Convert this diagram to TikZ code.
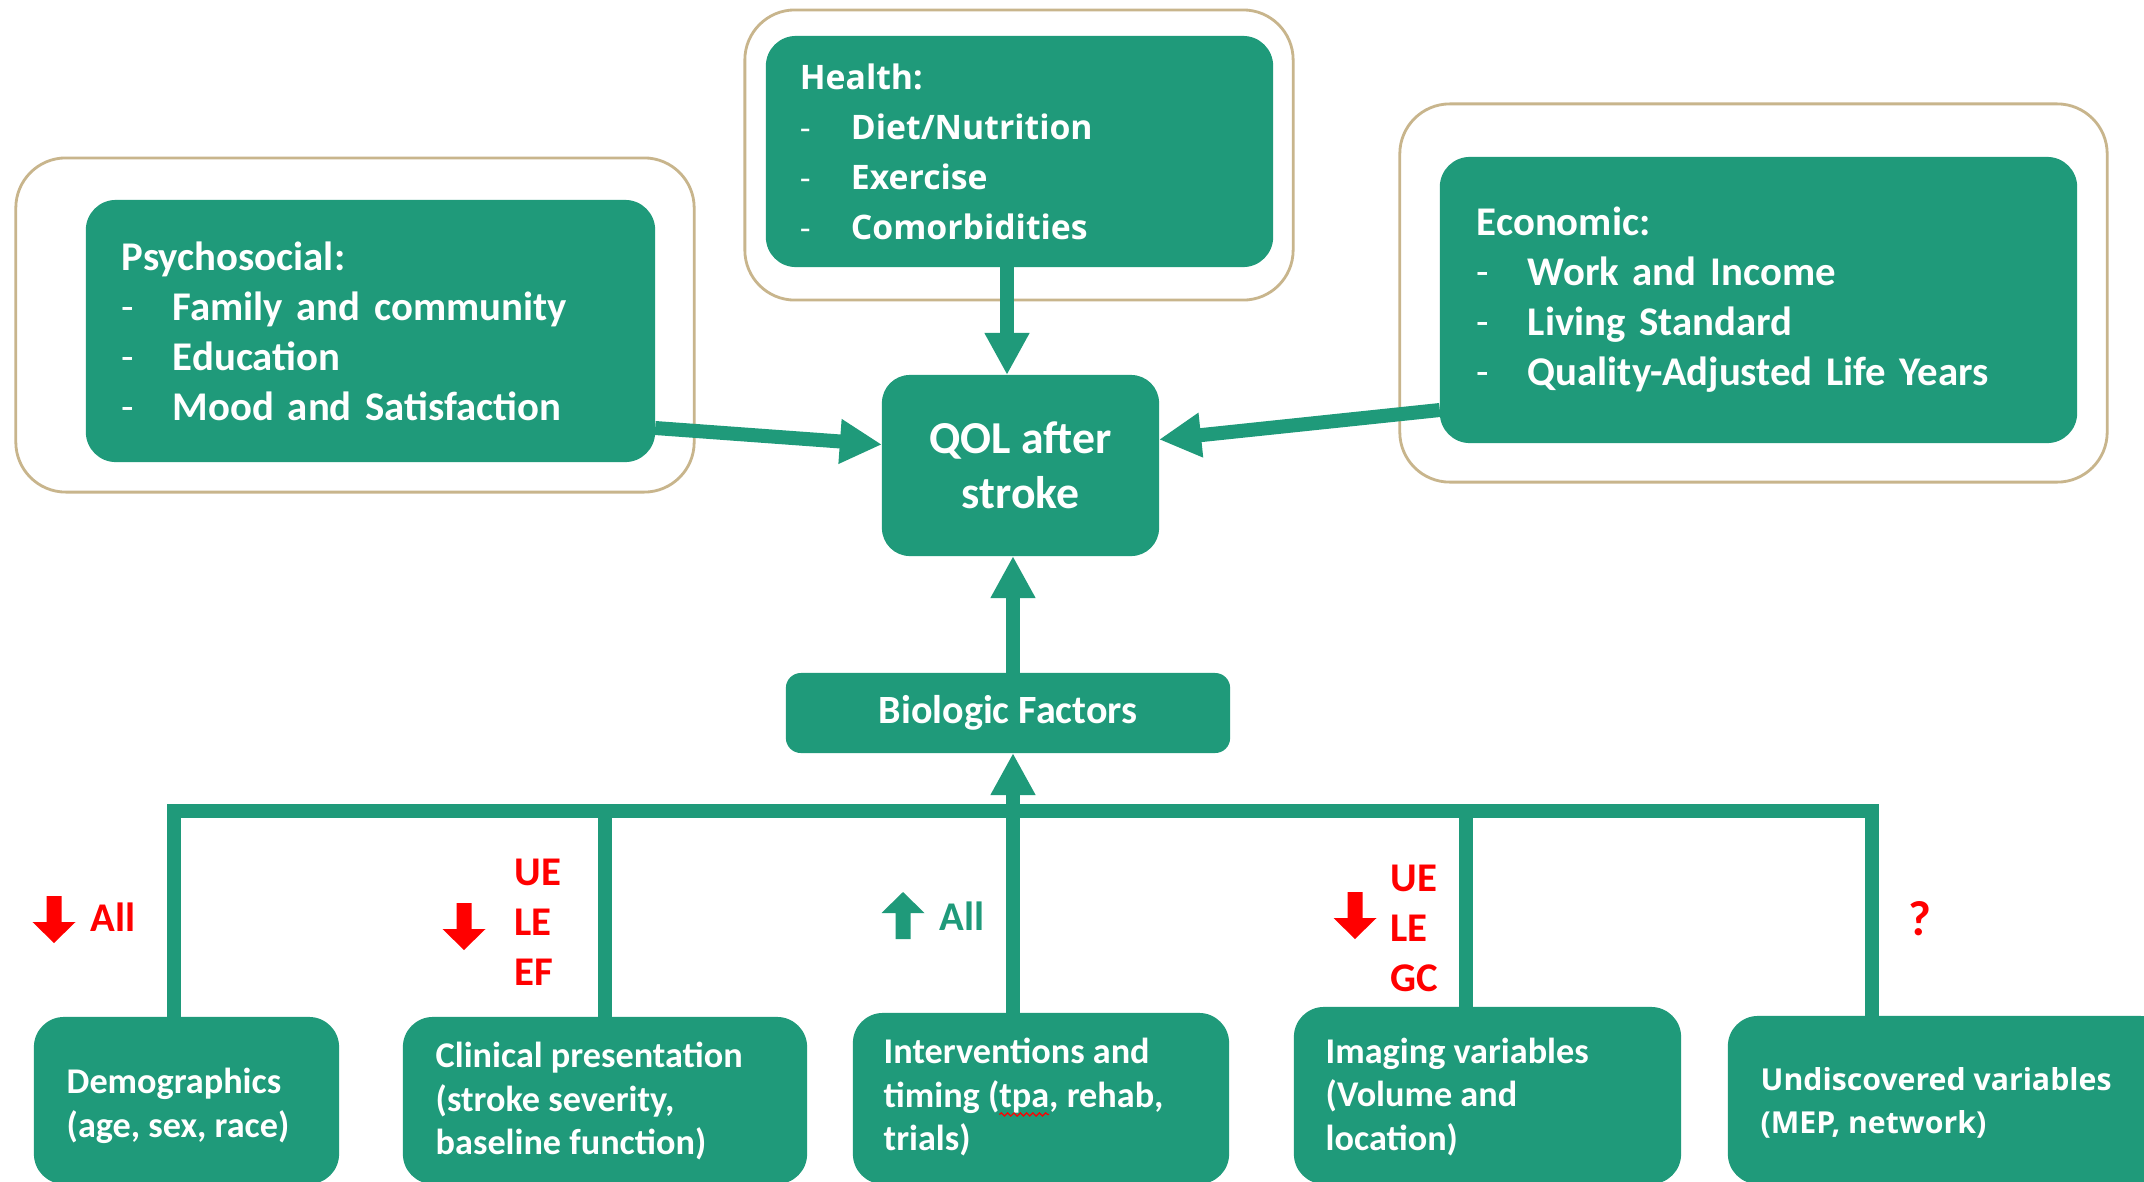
\documentclass[tikz,border=0pt]{standalone}
\usepackage{fontspec}
\setmainfont{Carlito}
\newfontfamily\wideface{Open Sans}
\usetikzlibrary{arrows.meta,calc,decorations.pathmorphing}

\definecolor{leafgreen}{RGB}{31,154,122}
\definecolor{framebrown}{RGB}{200,181,140}
\definecolor{alertred}{RGB}{255,0,0}

% red wavy mark under a word
\newcommand{\spellwave}[1]{\tikz[baseline=(sw.base)]{\node[inner sep=0pt, outer sep=0pt] (sw) {#1};
  \draw[overlay, alertred, line width=0.35pt, decorate, decoration={snake, amplitude=0.45pt, segment length=1.8pt}]
    ([yshift=-0.5pt]sw.south west) -- ([yshift=-0.5pt]sw.south east);}}

\tikzset{
  frame/.style={draw=framebrown, line width=0.8pt, rounded corners=0.5cm, fill=white},
  factor/.style={fill=leafgreen, draw=none, text=white, inner sep=0pt, outer sep=0pt},
  toplist/.style={factor, rounded corners=0.3cm, align=left, font=\bfseries\fontsize{11.6}{14.2}\selectfont},
  leaf/.style={factor, rounded corners=0.3cm},
  leaftext/.style={text=white, inner sep=0pt, align=left, anchor=west, font=\bfseries\fontsize{10.3}{12.5}\selectfont},
  conn/.style={draw=leafgreen, line width=0.14cm},
  tip/.style={-{Triangle[width=0.42cm, length=0.42cm]}},
  effect/.style={inner sep=0pt, anchor=west, align=left, font=\bfseries\fontsize{11.6}{14.2}\selectfont},
  downmark/.pic={\fill (-7.5,0) -- (7.5,0) -- (7.5,26) -- (21.5,26) -- (0,47) -- (-21.5,26) -- (-7.5,26) -- cycle;},
  upmark/.pic={\fill (-7.5,47) -- (7.5,47) -- (7.5,21) -- (21.5,21) -- (0,0) -- (-21.5,21) -- (-7.5,21) -- cycle;}
}

% list item lead: a light hyphen, then a fixed indent
\newcommand{\itm}{\makebox[0.51cm][l]{\mdseries -}}

\begin{document}
\begin{tikzpicture}[x=0.01cm, y=-0.01cm]
\useasboundingbox (0,0) rectangle (2144,1181);
\fill[white] (0,0) rectangle (2144,1181);

% outer frames
\node[frame, minimum width=6.78cm, minimum height=3.34cm] (psychFrame) at (355,325) {};
\node[frame, minimum width=5.48cm, minimum height=2.90cm] (healthFrame) at (1019,155) {};
\node[frame, minimum width=7.07cm, minimum height=3.78cm] (econFrame) at (1753.5,293) {};

% upper factor groups
\node[toplist, minimum width=5.69cm, minimum height=2.62cm, text width=4.97cm] (psych) at (370.5,331)
  {Psychosocial:\\\itm Family and community\\\itm Education\\\itm Mood and Satisfaction};
\node[toplist, minimum width=5.07cm, minimum height=2.31cm, text width=4.39cm,
      font=\wideface\bfseries\fontsize{9.6}{14.2}\selectfont] (health) at (1019.5,151.5)
  {Health:\\\itm Diet/Nutrition\\\itm Exercise\\\itm Comorbidities};
\node[toplist, minimum width=6.37cm, minimum height=2.86cm, text width=5.63cm] (econ) at (1758.5,300)
  {Economic:\\\itm Work and Income\\\itm Living Standard\\\itm Quality-Adjusted Life Years};

% outcome and biologic hub
\node[factor, rounded corners=0.28cm, minimum width=2.77cm, minimum height=1.81cm, align=center,
      font=\bfseries\fontsize{13}{15.5}\selectfont] (qol) at (1020.5,465.5) {QOL after\\stroke};
\node[factor, rounded corners=0.15cm, minimum width=4.44cm, minimum height=0.80cm,
      font=\bfseries\fontsize{11.4}{13}\selectfont] (bio) at (1008,713) {Biologic Factors};

% biologic variables
\node[leaf, minimum width=3.05cm, minimum height=1.67cm] (demo) at (186.5,1100.5) {};
\node[leaf, minimum width=4.04cm, minimum height=1.67cm] (clin) at (605,1100.5) {};
\node[leaf, minimum width=3.76cm, minimum height=1.71cm] (interv) at (1041,1098.5) {};
\node[leaf, minimum width=3.87cm, minimum height=1.77cm] (imag) at (1487.5,1095.5) {};
\node[leaf, minimum width=4.42cm, minimum height=1.68cm] (undisc) at (1949,1100) {};

\node[leaftext] (demoText) at (66,1106) {Demographics\\(age, sex, race)};
\node[leaftext] (clinText) at (435,1101) {Clinical presentation\\(stroke severity,\\baseline function)};
\node[leaftext] (intervText) at (883,1097) {Interventions and\\timing (\spellwave{tpa}, rehab,\\trials)};
\node[leaftext] (imagText) at (1325,1097) {Imaging variables\\(Volume and\\location)};
\node[leaftext, font=\wideface\bfseries\fontsize{8.6}{12.3}\selectfont] (undiscText) at (1760,1103)
  {Undiscovered variables\\(MEP, network)};

% connectors into the outcome
\draw[conn, tip] ($(health.south)+(-12.5,0)$) -- ($(qol.north)+(-13.5,0)$);
\draw[conn, tip] ($(psych.east)+(0,97)$) -- ($(qol.west)+(0,-21)$);
\draw[conn, tip] ($(econ.west)+(0,110)$) -- ($(qol.east)+(0,-26)$);
\draw[conn, tip] ($(bio.north)+(5,0)$) -- ($(qol.south)+(-7.5,0)$);

% collecting bar under the biologic hub
\coordinate (barL) at (174,811);
\coordinate (barR) at (1872,811);
\coordinate (jInt) at (1013,811);
\coordinate (jImg) at (1466,811);
\draw[conn, line join=miter] (demo.north -| barL) |- (barR) -- (undisc.north -| barR);
\draw[conn] (clin.north) -- (clin.north |- barL);
\draw[conn] (interv.north -| jInt) -- (jInt);
\draw[conn] (imag.north -| jImg) -- (jImg);
\draw[conn, tip] (jInt) -- ($(bio.south)+(5,0)$);

% direction of effect
\pic[fill=alertred] at (54,896) {downmark};
\node[effect, text=alertred] (demoEffect) at (90,917) {All};
\pic[fill=alertred] at (464,903) {downmark};
\node[effect, text=alertred] (clinEffect) at (514,922) {UE\\LE\\EF};
\pic[fill=leafgreen] at (903,892) {upmark};
\node[effect, text=leafgreen] (intervEffect) at (939,916) {All};
\pic[fill=alertred] at (1355,892) {downmark};
\node[effect, text=alertred] (imagEffect) at (1390,928) {UE\\LE\\GC};
\node[inner sep=0pt, text=alertred, font=\bfseries\fontsize{14}{16}\selectfont] (undiscEffect) at (1920,919) {?};
\end{tikzpicture}
\end{document}
